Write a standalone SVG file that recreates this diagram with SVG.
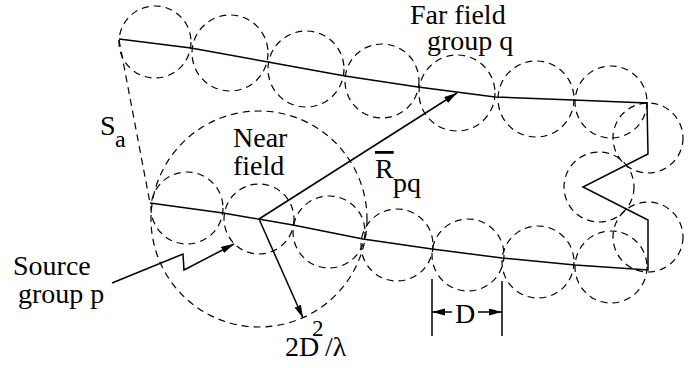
<svg xmlns="http://www.w3.org/2000/svg" width="690" height="368" viewBox="0 0 690 368">
<style>
.d{fill:none;stroke:#000;stroke-width:1.2;stroke-dasharray:7 5}
.s{fill:none;stroke:#000;stroke-width:1.5;stroke-linejoin:miter}
text{fill:#000;font-size:28px;font-family:"Liberation Serif","Times New Roman",serif}
.sub{font-size:24px}
.sup{font-size:23px}
</style>
<defs>
<marker id="ah" markerUnits="userSpaceOnUse" markerWidth="14" markerHeight="8" refX="13" refY="3.5" orient="auto">
<path d="M0,0 L13,3.5 L0,7 z" fill="#000"/>
</marker>
</defs>
<rect width="690" height="368" fill="#fff"/>
<g id="far-circles">
<circle class="d" cx="155" cy="42" r="36"/>
<circle class="d" cx="230" cy="53" r="38"/>
<circle class="d" cx="306" cy="69" r="38"/>
<circle class="d" cx="382" cy="81" r="37"/>
<circle class="d" cx="457" cy="93" r="38"/>
<circle class="d" cx="536" cy="99" r="38"/>
<circle class="d" cx="611" cy="102" r="36"/>
<circle class="d" cx="648" cy="138" r="35"/>
<circle class="d" cx="599" cy="187" r="35"/>
<circle class="d" cx="648" cy="237" r="35"/>
<circle class="d" cx="611" cy="267" r="36"/>
<circle class="d" cx="538" cy="262" r="36"/>
<circle class="d" cx="468" cy="255" r="36"/>
<circle class="d" cx="397" cy="245" r="36"/>
<circle class="d" cx="329" cy="232" r="36"/>
<circle class="d" cx="259" cy="219" r="35"/>
<circle class="d" cx="187" cy="208" r="36"/>
</g>
<g id="near-field">
<circle class="d" cx="259" cy="219" r="108"/>
</g>
<g id="surface">
<polyline class="s" points="119,39 191,48 268,62 345,76 418,87 495,97 573,100 647,103 648,154 583,187 648,220 648,270 575,265 502,258 432,249 363,239 293,225 223,213 150,203"/>
<line class="d" x1="119" y1="40" x2="150" y2="203"/>
</g>
<g id="connectors">
<line class="s" x1="259" y1="219" x2="457" y2="93" marker-end="url(#ah)"/>
<line class="s" x1="259" y1="219" x2="303" y2="318" marker-end="url(#ah)"/>
<polyline class="s" points="112,283 183,254 184,270 234,244" marker-end="url(#ah)"/>
<line class="s" x1="432" y1="279" x2="432" y2="336" stroke-width="1.2"/>
<line class="s" x1="502" y1="281" x2="502" y2="336" stroke-width="1.2"/>
<line class="s" x1="452" y1="312" x2="432" y2="312" marker-end="url(#ah)"/>
<line class="s" x1="478" y1="312" x2="502" y2="312" marker-end="url(#ah)"/>
</g>
<g id="labels">
<text x="410" y="24">Far field</text>
<text x="427" y="50">group q</text>
<text x="100" y="135">S</text>
<text class="sub" x="115" y="147">a</text>
<text x="233" y="147">Near</text>
<text x="233" y="175">field</text>
<text x="375" y="178"><tspan text-decoration="overline">R</tspan></text>
<text x="393" y="192">pq</text>
<text x="13" y="275">Source</text>
<text x="18" y="303">group p</text>
<text x="285" y="356">2D</text>
<text class="sup" x="312" y="336">2</text>
<text x="325" y="356">/λ</text>
<text x="455" y="323">D</text>
</g>
</svg>
